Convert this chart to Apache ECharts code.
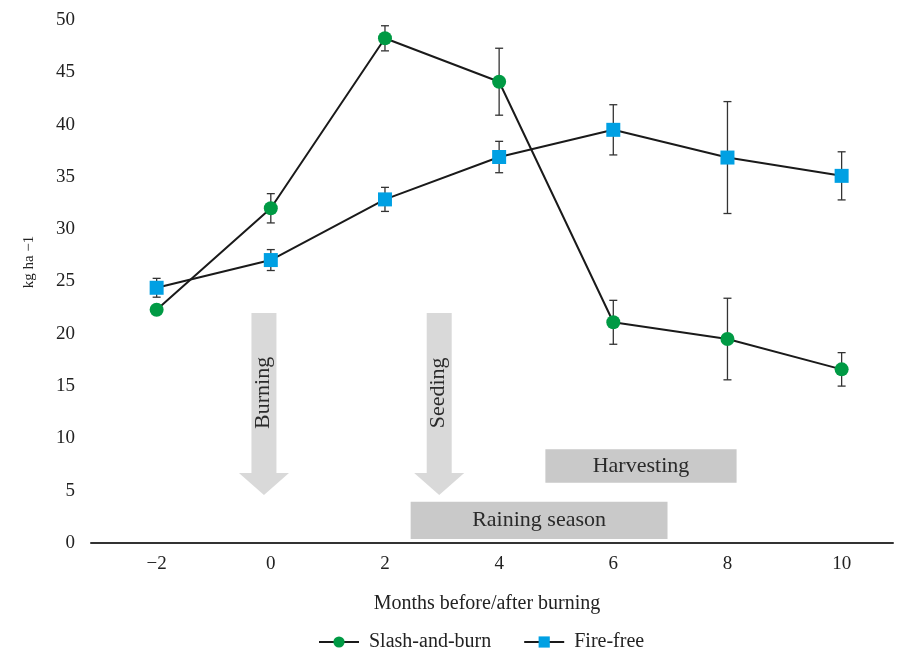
<!DOCTYPE html>
<html>
<head>
<meta charset="utf-8">
<script src="https://cdn.jsdelivr.net/npm/echarts@6/dist/echarts.min.js"></script>
<style>html,body{margin:0;padding:0;background:#fff;}#chart{width:904px;height:655px;}</style>
</head>
<body>
<div id="chart"></div>
<script>
// ---- data ----
const months = [-2, 0, 2, 4, 6, 8, 10];
const xTickValues = [-2, 0, 2, 4, 6, 8, 10];
const slashAndBurn = [22.3, 32.0, 48.25, 44.1, 21.1, 19.5, 16.6];
const slashAndBurnErr = [0.4, 1.4, 1.2, 3.2, 2.1, 3.9, 1.6];
const fireFree = [24.4, 27.05, 32.85, 36.9, 39.5, 36.85, 35.1];
const fireFreeErr = [0.9, 1.0, 1.15, 1.5, 2.4, 5.35, 2.3];

// annotations (in data units)
const arrowLabels = ['Burning', 'Seeding'];
const arrowX = [-0.12, 2.95];
const arrowTop = [22.0, 22.0];
const arrowHeadBase = [6.7, 6.7];
const arrowTip = [4.6, 4.6];

const boxLabels = ['Harvesting', 'Raining season'];
const boxX0 = [4.81, 2.45];
const boxX1 = [8.16, 6.95];
const boxY0 = [5.76, 0.38];
const boxY1 = [8.96, 3.95];

const FONT = '"Liberation Serif", "Times New Roman", serif';
const GREEN = '#009a44';
const BLUE = '#00a0e3';

const chart = echarts.init(document.getElementById('chart'), null, {renderer: 'canvas'});

function errData(vals, errs) {
  return months.map((m, i) => [m, vals[i] - errs[i], vals[i] + errs[i]]);
}
function errRender(params, api) {
  const x = api.value(0);
  const lo = api.coord([x, api.value(1)]);
  const hi = api.coord([x, api.value(2)]);
  const c = 4;
  const st = {stroke: '#333', lineWidth: 1.3};
  return {
    type: 'group',
    children: [
      {type: 'line', shape: {x1: lo[0], y1: lo[1], x2: hi[0], y2: hi[1]}, style: st},
      {type: 'line', shape: {x1: lo[0] - c, y1: lo[1], x2: lo[0] + c, y2: lo[1]}, style: st},
      {type: 'line', shape: {x1: hi[0] - c, y1: hi[1], x2: hi[0] + c, y2: hi[1]}, style: st}
    ]
  };
}

const arrowData = arrowLabels.map((l, i) => [arrowX[i], arrowTop[i], arrowHeadBase[i], arrowTip[i]]);
const boxData = boxLabels.map((l, i) => [boxX0[i], boxY0[i], boxX1[i], boxY1[i]]);

function arrowRender(params, api) {
  const x = api.value(0);
  const top = api.coord([x, api.value(1)]);
  const base = api.coord([x, api.value(2)]);
  const tip = api.coord([x, api.value(3)]);
  const sw = 12.5, hw = 25;
  const cx = top[0];
  return {
    type: 'group',
    children: [
      {type: 'polygon', shape: {points: [
        [cx - sw, top[1]], [cx + sw, top[1]], [cx + sw, base[1]], [cx + hw, base[1]],
        [cx, tip[1]], [cx - hw, base[1]], [cx - sw, base[1]]
      ]}, style: {fill: '#d9d9d9'}},
      {type: 'text', x: cx - 1, y: (top[1] + base[1]) / 2, rotation: Math.PI / 2,
        style: {text: arrowLabels[params.dataIndex], font: '22px ' + FONT, fill: '#2a2a2a',
          align: 'center', verticalAlign: 'middle'}}
    ]
  };
}
function boxRender(params, api) {
  const p0 = api.coord([api.value(0), api.value(3)]);
  const p1 = api.coord([api.value(2), api.value(1)]);
  return {
    type: 'group',
    children: [
      {type: 'rect', shape: {x: p0[0], y: p0[1], width: p1[0] - p0[0], height: p1[1] - p0[1]},
        style: {fill: '#c9c9c9'}},
      {type: 'text', x: (p0[0] + p1[0]) / 2, y: (p0[1] + p1[1]) / 2,
        style: {text: boxLabels[params.dataIndex], font: '22px ' + FONT, fill: '#2a2a2a',
          align: 'center', verticalAlign: 'middle'}}
    ]
  };
}

const option = {
  animation: false,
  backgroundColor: '#fff',
  grid: {left: 91, right: 11, top: 20, bottom: 112, outerBoundsMode: 'none'},
  legend: {
    left: 318, top: 632, padding: 0,
    itemWidth: 40, itemHeight: 14, itemGap: 32,
    textStyle: {fontFamily: FONT, fontSize: 20, color: '#222', padding: [0, 0, 0, 5]},
    data: ['Slash-and-burn', 'Fire-free']
  },
  xAxis: {
    type: 'value', min: -3.15, max: 10.9,
    name: 'Months before/after burning', nameLocation: 'middle', nameGap: 51,
    nameTextStyle: {fontFamily: FONT, fontSize: 20, color: '#222', padding: [0, 10, 0, 0]},
    axisLine: {show: true, onZero: false, lineStyle: {color: '#333', width: 2}},
    axisTick: {show: false},
    splitLine: {show: false},
    axisLabel: {
      customValues: xTickValues,
      margin: 12,
      fontFamily: FONT, fontSize: 19, color: '#222',
      formatter: v => v < 0 ? '\u2212' + Math.abs(v) : String(v)
    }
  },
  yAxis: {
    type: 'value', min: 0, max: 50, interval: 5,
    axisLine: {show: false}, axisTick: {show: false}, splitLine: {show: false},
    axisLabel: {margin: 16, fontFamily: FONT, fontSize: 19, color: '#222'}
  },
  graphic: [{
    type: 'text', x: 29, y: 262, rotation: Math.PI / 2,
    style: {text: 'kg ha \u22121', font: '15px ' + FONT, fill: '#222', align: 'center', verticalAlign: 'middle'}
  }],
  series: [
    {type: 'custom', name: 'arrows', renderItem: arrowRender, data: arrowData, z: 1, silent: true, clip: false},
    {type: 'custom', name: 'boxes', renderItem: boxRender, data: boxData, z: 1, silent: true, clip: false},
    {type: 'custom', name: 'errSB', renderItem: errRender, data: errData(slashAndBurn, slashAndBurnErr), z: 2, silent: true},
    {type: 'custom', name: 'errFF', renderItem: errRender, data: errData(fireFree, fireFreeErr), z: 2, silent: true},
    {
      type: 'line', name: 'Slash-and-burn', z: 3,
      data: months.map((m, i) => [m, slashAndBurn[i]]),
      symbol: 'circle', symbolSize: 14,
      itemStyle: {color: GREEN},
      lineStyle: {color: '#1a1a1a', width: 2}
    },
    {
      type: 'line', name: 'Fire-free', z: 3,
      data: months.map((m, i) => [m, fireFree[i]]),
      symbol: 'rect', symbolSize: 14,
      itemStyle: {color: BLUE},
      lineStyle: {color: '#1a1a1a', width: 2}
    }
  ]
};
chart.setOption(option);
</script>
</body>
</html>
